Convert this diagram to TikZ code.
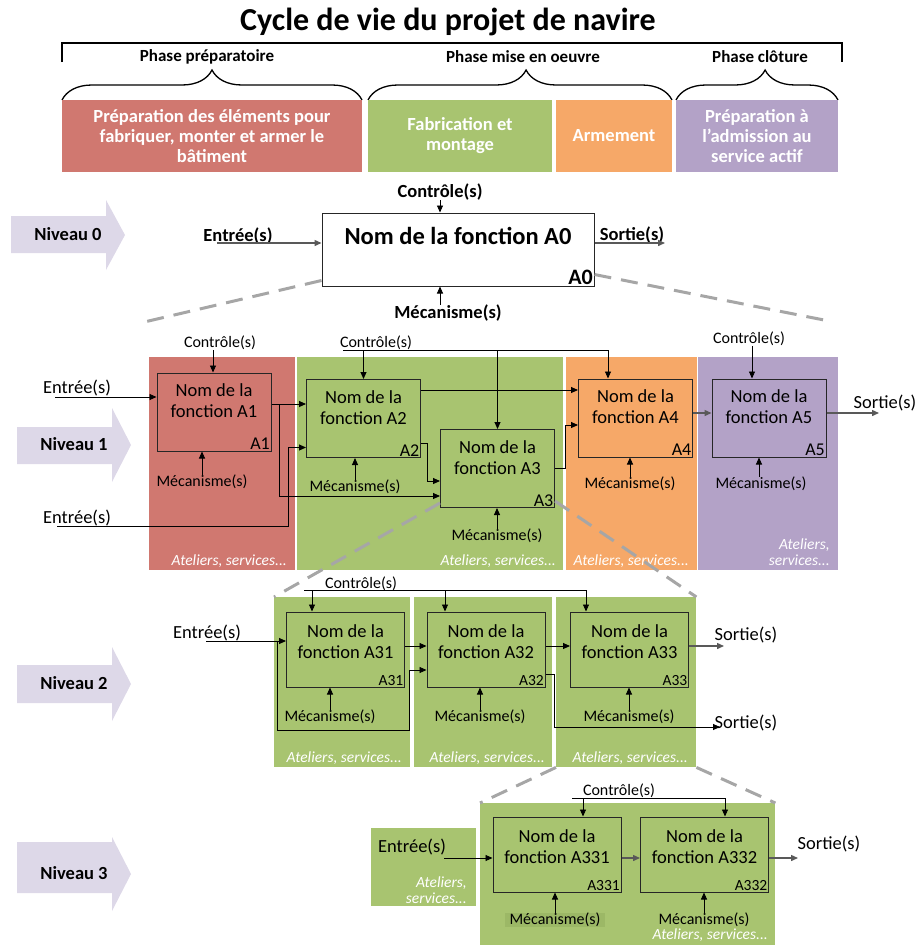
\documentclass[tikz,border=0pt]{standalone}
\usepackage{fontspec}
\setmainfont{Carlito}
\usetikzlibrary{arrows.meta,decorations.pathreplacing}

\definecolor{rougeph}{HTML}{D07870}
\definecolor{vertph}{HTML}{A8C470}
\definecolor{orangeph}{HTML}{F6A868}
\definecolor{violetph}{HTML}{B3A2C7}
\definecolor{nivfond}{HTML}{DDD8E8}
\definecolor{vertfonce}{HTML}{9CB866}
\definecolor{tirets}{HTML}{A6A6A6}

\tikzset{
  phase/.style={minimum height=72pt, inner sep=0pt, text=white, align=center,
    font=\bfseries\fontsize{18.5}{20}\selectfont},
  phtxt/.style={inner sep=0pt, font=\bfseries\fontsize{17}{17}\selectfont},
  accol/.style={decorate, decoration={brace, amplitude=30pt, aspect=#1}, line width=1.3pt},
  panneau/.style={rectangle, inner sep=0pt, anchor=north west},
  fct/.style={draw=black!85, line width=1pt, inner sep=0pt, minimum width=114pt, minimum height=78pt},
  fct2/.style={fct, minimum width=118pt, minimum height=75pt},
  fct3/.style={fct, minimum width=128pt, minimum height=75pt},
  fnom/.style={align=center, inner sep=0pt, font=\fontsize{18.5}{21}\selectfont},
  fid/.style={anchor=south east, inner sep=1.5pt, font=\fontsize{18}{18}\selectfont},
  fid2/.style={fid, font=\fontsize{15.5}{15.5}\selectfont},
  lab/.style={inner sep=0pt, font=\fontsize{16}{16}\selectfont},
  lab0/.style={inner sep=0pt, font=\bfseries\fontsize{18.5}{18.5}\selectfont},
  es/.style={inner sep=0pt, font=\fontsize{18.5}{18.5}\selectfont},
  atl/.style={anchor=east, inner sep=0pt, align=right, text=white,
    font=\itshape\fontsize{15.5}{16.5}\selectfont},
  fl/.style={-{Triangle[length=7pt,width=6pt]}, line width=0.9pt},
  gfl/.style={fl, draw=black!65, line width=1.4pt},
  tiret/.style={draw=tirets, line width=3pt, dash pattern=on 17pt off 10pt},
  niv/.style={fill=nivfond},
  nivtxt/.style={inner sep=0pt, font=\bfseries\fontsize{18.5}{18.5}\selectfont}
}

\begin{document}
\begin{tikzpicture}[x=1pt, y=-1pt]
  \useasboundingbox (0,0) rectangle (917,945);

  % titre et phases
  \node[font=\bfseries\fontsize{32}{34}\selectfont, inner sep=0pt] (titre) at (448,22) {Cycle de vie du projet de navire};
  \draw[line width=2pt] (62,62) -- (62,43) -- (842,43) -- (842,62);
  \node[phtxt] (t1) at (207,57) {Phase préparatoire};
  \node[phtxt] (t2) at (523,57) {Phase mise en oeuvre};
  \node[phtxt] (t3) at (760,57) {Phase clôture};
  \draw[accol=0.5] (62,100) -- (362,100);
  \draw[accol=0.52] (368,100) -- (672,100);
  \draw[accol=0.55] (676,100) -- (838,100);
  \node[phase, fill=rougeph, minimum width=300pt] (ph1) at (212,136) {Préparation des éléments pour\\fabriquer, monter et armer le\\bâtiment};
  \node[phase, fill=vertph, minimum width=184pt] (ph2) at (460,136) {Fabrication et\\montage};
  \node[phase, fill=orangeph, minimum width=116pt] (ph3) at (614,136) {Armement};
  \node[phase, fill=violetph, minimum width=162pt] (ph4) at (757,136) {Préparation à\\l’admission au\\service actif};

  % fleches des niveaux
  \foreach \lv/\dx/\bt/\bb/\ht/\hb in {0/-6/216/253/200/270, 1/0/427/464/408/482, 2/0/665/703/647/721, 3/0/842/893/837/911} {
    \fill[niv] (17+\dx,\bt) -- (112+\dx,\bt) -- (112+\dx,\ht) -- (131+\dx,{(\ht+\hb)/2})
      -- (112+\dx,\hb) -- (112+\dx,\bb) -- (17+\dx,\bb) -- cycle;
    \node[nivtxt] (niv\lv) at (74+\dx,{(\ht+\hb)/2+6}) {Niveau \lv};
  }

  % niveau 0
  \node[fct, fill=white, minimum width=272pt, minimum height=73pt] (A0) at (458,249.5) {};
  \coordinate (d0g) at (140,323);
  \coordinate (d0d) at (829,321);
  \draw[tiret] ([yshift=6pt]A0.south west) -- (d0g);
  \draw[tiret] ([yshift=12pt]A0.south east) -- (d0d);
  \node[inner sep=0pt, font=\bfseries\fontsize{24.5}{26}\selectfont] (A0n) at (458,236) {Nom de la fonction A0};
  \node[fid, font=\bfseries\fontsize{22}{22}\selectfont] (A0i) at (A0.south east) {A0};
  \node[lab0] (c0) at (440,192) {Contrôle(s)};
  \draw[fl] (c0.south) -- (c0.south |- A0.north);
  \node[lab0] (m0) at (448,313) {Mécanisme(s)};
  \draw[fl] ([xshift=-8pt]m0.north) -- ([xshift=-8pt]m0.north |- A0.south);
  \node[lab0] (e0) at (238,236) {Entrée(s)};
  \coordinate (e0a) at (217,243);
  \draw[gfl] (e0a) -- (e0a -| A0.west);
  \node[lab0] (s0) at (632,235) {Sortie(s)};
  \coordinate (s0a) at (665,243);
  \draw[gfl] (s0a -| A0.east) -- (s0a);

  % niveau 1
  \node[panneau, fill=rougeph, minimum width=146pt, minimum height=213pt] (p11) at (149,357) {};
  \node[panneau, fill=vertph, minimum width=266pt, minimum height=213pt] (p12) at (297,357) {};
  \node[panneau, fill=orangeph, minimum width=131pt, minimum height=213pt] (p13) at (566,357) {};
  \node[panneau, fill=violetph, minimum width=140pt, minimum height=213pt] (p14) at (698,357) {};
  \node[atl] (at11) at (287,561) {Ateliers, services...};
  \node[atl] (at12) at (556,561) {Ateliers, services...};
  \node[atl] (at13) at (689,561) {Ateliers, services...};
  \node[atl] (at14) at (830,552) {Ateliers,\\services...};

  \node[fct] (A1) at (214,412) {};
  \node[fnom] (A1n) at ([yshift=11pt]A1.center) {Nom de la\\fonction A1};
  \node[fid] (A1i) at (A1.south east) {A1};
  \node[fct] (A2) at (363.5,418.5) {};
  \node[fnom] (A2n) at ([yshift=11pt]A2.center) {Nom de la\\fonction A2};
  \node[fid] (A2i) at (A2.south east) {A2};
  \node[fct] (A3) at (497.5,468.5) {};
  \node[fnom] (A3n) at ([yshift=11pt]A3.center) {Nom de la\\fonction A3};
  \node[fid] (A3i) at (A3.south east) {A3};
  \node[fct] (A4) at (635.5,418) {};
  \node[fnom] (A4n) at ([yshift=11pt]A4.center) {Nom de la\\fonction A4};
  \node[fid] (A4i) at (A4.south east) {A4};
  \node[fct] (A5) at (769,418) {};
  \node[fnom] (A5n) at ([yshift=11pt]A5.center) {Nom de la\\fonction A5};
  \node[fid] (A5i) at (A5.south east) {A5};

  \node[lab] (c11) at (220,343) {Contrôle(s)};
  \draw[fl] ([xshift=-7pt]c11.south) -- ([xshift=-7pt]c11.south |- A1.north);
  \node[lab] (m11) at (202,482) {Mécanisme(s)};
  \draw[fl] (m11.north) -- (m11.north |- A1.south);
  \node[es] (e11) at (77,388) {Entrée(s)};
  \coordinate (e11a) at (55,397);
  \draw[fl] (e11a) -- (e11a -| A1.west);
  \node[es] (e12) at (77,518) {Entrée(s)};
  \coordinate (e12a) at (57,526);
  \draw[fl] (e12a) -| ([xshift=-18pt,yshift=-29pt]A2.west) -- ([yshift=-29pt]A2.west);
  \draw[fl] ([yshift=8pt]A1.east) -- ([yshift=8pt]A1.east -| A2.west);
  \draw[fl] ([xshift=8pt,yshift=8pt]A1.east) |- ([yshift=-27.5pt]A3.west);

  \node[lab] (c12) at (376,343) {Contrôle(s)};
  \coordinate (c12a) at (343,350);
  \draw[fl] (c12a) -| ([xshift=-27.5pt]A4.north);
  \draw[fl] (c12a -| A2.north) -- (A2.north);
  \draw[fl] (c12a -| A3.north) -- (A3.north);
  \node[lab] (m12) at (355,487) {Mécanisme(s)};
  \draw[fl] (m12.north) -- (m12.north |- A2.south);
  \draw[fl] ([yshift=28.5pt]A2.east) -- ([yshift=28.5pt]A2.east -| A4.west);
  \draw[fl] ([yshift=-24.5pt]A2.east) -- ++(6,0) |- ([yshift=-12.5pt]A3.west);

  \node[lab] (m13) at (497,536) {Mécanisme(s)};
  \draw[fl] (m13.north) -- (m13.north |- A3.south);
  \draw[fl] (A3.east) -- ++(10,0) |- ([yshift=-7pt]A4.west);

  \node[lab] (m14) at (630,484) {Mécanisme(s)};
  \draw[fl] (m14.north) -- (m14.north |- A4.south);
  \draw[gfl] ([yshift=5pt]A4.east) -- ([yshift=5pt]A5.west);

  \node[lab] (c15) at (749,339) {Contrôle(s)};
  \draw[fl] ([xshift=3pt]c15.south) -- ([xshift=3pt]c15.south |- A5.north);
  \node[lab] (m15) at (761,484) {Mécanisme(s)};
  \draw[fl] ([xshift=-2pt]m15.north) -- ([xshift=-2pt]m15.north |- A5.south);
  \coordinate (s15a) at (879,413);
  \draw[gfl] (s15a -| A5.east) -- (s15a);
  \node[es] (s15) at (885,403) {Sortie(s)};

  % niveau 2
  \node[panneau, fill=vertph, minimum width=136pt, minimum height=170pt] (p21) at (274,597) {};
  \node[panneau, fill=vertph, minimum width=138pt, minimum height=170pt] (p22) at (414,597) {};
  \node[panneau, fill=vertph, minimum width=140pt, minimum height=170pt] (p23) at (556,597) {};
  \draw[tiret] ([yshift=5pt]A3.south west) -- (p21.north west);
  \draw[tiret] ([yshift=7pt]A3.south east) -- (p23.north east);
  \node[atl] (at21) at (402,758) {Ateliers, services...};
  \node[atl] (at22) at (545,758) {Ateliers, services...};
  \node[atl] (at23) at (688,758) {Ateliers, services...};

  \node[fct2] (A31) at (345.5,649.5) {};
  \node[fnom] (A31n) at ([yshift=7.5pt]A31.center) {Nom de la\\fonction A31};
  \node[fid2] (A31i) at (A31.south east) {A31};
  \node[fct2] (A32) at (486,649.5) {};
  \node[fnom] (A32n) at ([yshift=7.5pt]A32.center) {Nom de la\\fonction A32};
  \node[fid2] (A32i) at (A32.south east) {A32};
  \node[fct2] (A33) at (629.5,649.5) {};
  \node[fnom] (A33n) at ([yshift=7.5pt]A33.center) {Nom de la\\fonction A33};
  \node[fid2] (A33i) at (A33.south east) {A33};

  \node[lab] (c2) at (361,584) {Contrôle(s)};
  \coordinate (c2a) at (304,590);
  \draw[fl] (c2a) -| ([xshift=-43.5pt]A33.north);
  \draw[fl] ([xshift=-33.5pt]A31.north |- c2a) -- ([xshift=-33.5pt]A31.north);
  \draw[fl] ([xshift=-41pt]A32.north |- c2a) -- ([xshift=-41pt]A32.north);
  \node[es] (e2) at (207,633) {Entrée(s)};
  \coordinate (e2a) at (206,641);
  \draw[fl] (e2a) -- (e2a -| A31.west);
  \draw[fl] ([xshift=-9pt]e2a -| A31.west) -- ++(0,89) -| ([xshift=-17pt,yshift=-20.5pt]A32.west) -- ([yshift=-20.5pt]A32.west);
  \draw[fl] ([yshift=3.5pt]A31.east) -- ([yshift=3.5pt]A32.west);
  \draw[fl] ([yshift=3.5pt]A32.east) -- ([yshift=3.5pt]A33.west);
  \coordinate (s2a) at (724,646);
  \draw[gfl] (s2a -| A33.east) -- (s2a);
  \node[es] (s2) at (746,635) {Sortie(s)};
  \coordinate (s2b) at (720,727);
  \draw[fl] ([yshift=-24.5pt]A32.east) -| ([xshift=9pt]A32.east |- s2b) -- (s2b);
  \node[es] (s2c) at (746,723) {Sortie(s)};
  \node[lab] (m21) at (330,717) {Mécanisme(s)};
  \draw[fl] (m21.north) -- (m21.north |- A31.south);
  \node[lab] (m22) at (480,717) {Mécanisme(s)};
  \draw[fl] (m22.north) -- (m22.north |- A32.south);
  \node[lab] (m23) at (629,717) {Mécanisme(s)};
  \draw[fl] (m23.north) -- (m23.north |- A33.south);

  % niveau 3
  \node[panneau, fill=vertph, minimum width=105pt, minimum height=78pt] (p30) at (371,828) {};
  \node[panneau, fill=vertph, minimum width=295pt, minimum height=142pt] (p31) at (480,803) {};
  \draw[tiret] (p23.south west) -- (p31.north west);
  \draw[tiret] (p23.south east) -- (p31.north east);
  \node[atl] (at30) at (467,890) {Ateliers,\\services...};
  \node[atl] (at31) at (768,935) {Ateliers, services...};

  \node[fct3] (A331) at (557,854.5) {};
  \node[fnom] (A331n) at ([yshift=7.5pt]A331.center) {Nom de la\\fonction A331};
  \node[fid2] (A331i) at (A331.south east) {A331};
  \node[fct3] (A332) at (704.5,854.5) {};
  \node[fnom] (A332n) at ([yshift=7.5pt]A332.center) {Nom de la\\fonction A332};
  \node[fid2] (A332i) at (A332.south east) {A332};

  \node[lab] (c3) at (619,791) {Contrôle(s)};
  \coordinate (c3a) at (572,798);
  \draw[fl] (c3a) -| ([xshift=20.5pt]A332.north);
  \draw[fl] ([xshift=26pt]A331.north |- c3a) -- ([xshift=26pt]A331.north);
  \node[es] (e3) at (412,847) {Entrée(s)};
  \coordinate (e3a) at (444,858);
  \draw[fl] (e3a) -- (e3a -| A331.west);
  \draw[gfl] ([yshift=-3.5pt]A331.east) -- ([yshift=-3.5pt]A332.west);
  \coordinate (s3a) at (798,858);
  \draw[gfl] (s3a -| A332.east) -- (s3a);
  \node[es] (s3) at (829,844) {Sortie(s)};
  \node[lab, fill=vertfonce, inner xsep=5pt] (m31) at (555,920) {Mécanisme(s)};
  \draw[fl] (m31.north) -- (m31.north |- A331.south);
  \node[lab] (m32) at (704,920) {Mécanisme(s)};
  \draw[fl] (m32.north) -- (m32.north |- A332.south);
\end{tikzpicture}
\end{document}
